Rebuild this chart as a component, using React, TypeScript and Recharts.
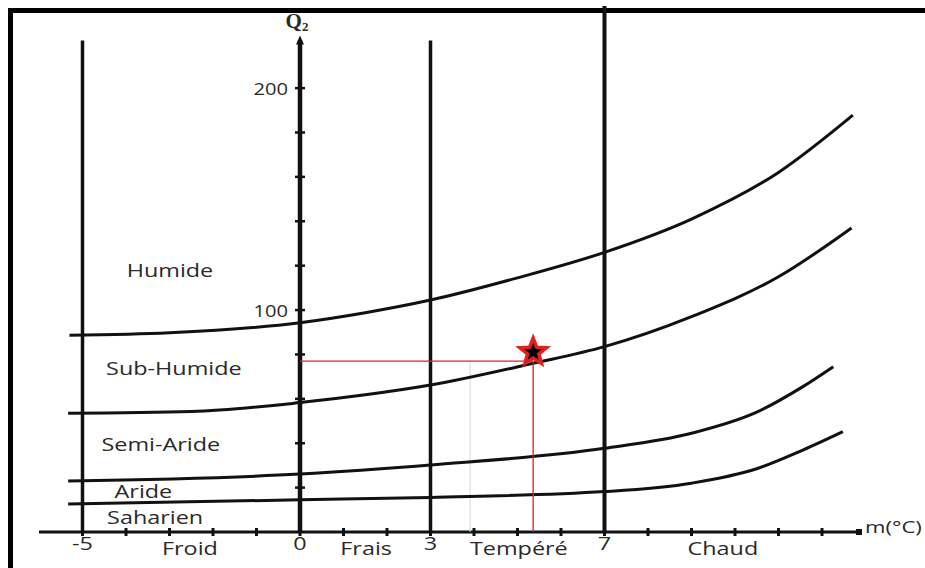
import { LineChart, Line, XAxis, YAxis, ReferenceLine, ReferenceDot } from "recharts";

// Climagramme d'Emberger : Q2 en fonction de m (°C)
// limites entre étages
const limHumideM = [-5.3, -3, 0, 1.5, 3, 5, 7, 9, 11, 12.71];
const limHumideQ = [88.7, 89.8, 94.3, 98.8, 104.5, 114.5, 126, 141, 162, 187.8];

const limSubHumideM = [-5.33, -2.5, 0, 1.5, 3, 5.36, 7, 9, 11, 12.68];
const limSubHumideQ = [53.5, 54.3, 58.3, 61.8, 66.2, 76, 83.5, 97, 115, 137];

const limSemiArideM = [-5.33, 0, 3, 7, 9, 10.5, 11.56, 12.26];
const limSemiArideQ = [23, 26.1, 30.2, 37.7, 44.5, 54, 65.5, 74.5];

const limArideM = [-5.33, 0, 3, 7, 9, 10.5, 11.56, 12.48];
const limArideQ = [12.6, 14.5, 15.6, 18.2, 22, 28.5, 36.9, 45.2];

const etageNames = ["Humide", "Sub-Humide", "Semi-Aride", "Aride", "Saharien"];
const etageM = [-2.99, -2.9, -3.2, -3.6, -3.33];
const etageQ = [118, 73.9, 39.6, 18.6, 6.9];

// variantes thermiques
const mTicks = [-5, -4, -3, -2, -1, 0, 1, 2, 3, 4, 5, 6, 7, 8, 9, 10, 11, 12];
const mLabelled = [-5, 0, 3, 7];
const varianteNames = ["Froid", "Frais", "Tempéré", "Chaud"];
const varianteM = [-2.53, 1.52, 5.03, 9.72];
const limitesM = [-5, 3, 7];

const qTicks = [20, 40, 60, 80, 100, 120, 140, 160, 180, 200];
const qLabelled = [100, 200];
const qAxisTop = 221.5;
const mAxisEnd = 12.85;

// station
const stationM = 5.36;
const stationQ = 77;
const grayM = 3.91;

const FONT = "'Open Sans', 'DejaVu Sans', sans-serif";
const INK = "#2a2a2a";

const toPoints = (ms: number[], qs: number[]) => ms.map((m, i) => ({ m, q: qs[i] }));

const curves = [
  toPoints(limHumideM, limHumideQ),
  toPoints(limSubHumideM, limSubHumideQ),
  toPoints(limSemiArideM, limSemiArideQ),
  toPoints(limArideM, limArideQ),
];

function Txt({ x, y, text, size = 18, anchor = "middle", sx = 1.3 }: any) {
  return (
    <text
      transform={`translate(${x},${y}) scale(${sx},1)`}
      textAnchor={anchor}
      dominantBaseline="central"
      fontSize={size}
      fontFamily={FONT}
      fill={INK}
    >
      {text}
    </text>
  );
}

function starPoints(cx: number, cy: number, ro: number, ri: number) {
  const pts: string[] = [];
  for (let i = 0; i < 10; i++) {
    const r = i % 2 === 0 ? ro : ri;
    const a = -Math.PI / 2 + (i * Math.PI) / 5;
    pts.push(`${cx + r * Math.cos(a)},${cy + r * Math.sin(a)}`);
  }
  return pts.join(" ");
}

const renderMTick = (props: any) => {
  const { x, y, payload } = props;
  const v = payload.value;
  const zi = varianteM.indexOf(v);
  if (zi >= 0) return <Txt x={x} y={y + 16} text={varianteNames[zi]} />;
  return (
    <g>
      <line x1={x} x2={x} y1={y - 4} y2={y + 4} stroke="#111" strokeWidth={3} />
      {mLabelled.includes(v) && <Txt x={x} y={y + 11} text={String(v)} />}
    </g>
  );
};

export default function App() {
  return (
    <div style={{ position: "fixed", left: 0, top: 0, width: 925, height: 568, background: "#fff" }}>
      <div
        style={{
          position: "absolute",
          left: 8,
          top: 8,
          width: 917,
          height: 560,
          borderTop: "5px solid #000",
          borderLeft: "5px solid #000",
          boxSizing: "border-box",
        }}
      />
      <div style={{ position: "absolute", left: 0, top: 0 }}>
        <LineChart width={925} height={568} margin={{ top: 6, right: 16, bottom: 0, left: 39 }}>
          <XAxis
            type="number"
            dataKey="m"
            domain={[-6, 14]}
            allowDataOverflow
            ticks={[...mTicks, ...varianteM]}
            interval={0}
            axisLine={false}
            tickLine={false}
            tickSize={0}
            tickMargin={0}
            height={36}
            tick={renderMTick}
          />
          <YAxis type="number" dataKey="q" domain={[0, 237]} allowDataOverflow hide />

          {/* axes */}
          <ReferenceLine segment={[{ x: -6, y: 0 }, { x: mAxisEnd, y: 0 }]} stroke="#111" strokeWidth={3} />
          <ReferenceLine segment={[{ x: 0, y: 0 }, { x: 0, y: qAxisTop }]} stroke="#111" strokeWidth={4.5} />

          {/* limites des variantes */}
          {limitesM.map((m) => (
            <ReferenceLine
              key={m}
              segment={[{ x: m, y: 0 }, { x: m, y: m === 7 ? 237 : qAxisTop }]}
              stroke="#111"
              strokeWidth={m === 7 ? 4 : 3.5}
            />
          ))}

          <ReferenceLine segment={[{ x: grayM, y: 0 }, { x: grayM, y: stationQ }]} stroke="#d6d6d6" strokeWidth={1} />

          {curves.map((data, i) => (
            <Line
              key={i}
              data={data}
              dataKey="q"
              type="monotone"
              stroke="#111"
              strokeWidth={3}
              dot={false}
              activeDot={false}
              isAnimationActive={false}
            />
          ))}

          {/* station */}
          <ReferenceLine segment={[{ x: 0, y: stationQ }, { x: stationM, y: stationQ }]} stroke="#e0201c" strokeWidth={1.3} />
          <ReferenceLine segment={[{ x: stationM, y: 0 }, { x: stationM, y: stationQ }]} stroke="#e0201c" strokeWidth={1.3} />

          {qTicks.map((q) => (
            <ReferenceDot
              key={q}
              x={0}
              y={q}
              shape={(p: any) => (
                <g>
                  <line x1={p.cx - 5} x2={p.cx + 5} y1={p.cy} y2={p.cy} stroke="#111" strokeWidth={2.5} />
                  {qLabelled.includes(q) && <Txt x={p.cx - 12} y={p.cy + 1} text={String(q)} size={15.5} anchor="end" />}
                </g>
              )}
            />
          ))}

          <ReferenceDot
            x={0}
            y={qAxisTop}
            shape={(p: any) => (
              <g>
                <polygon points={`${p.cx},${p.cy - 5} ${p.cx - 4},${p.cy + 4} ${p.cx + 4},${p.cy + 4}`} fill="#111" />
                <text x={p.cx - 3} y={p.cy - 12} textAnchor="middle" fontFamily="'Liberation Serif', serif" fontWeight="bold" fontSize={21} fill={INK}>
                  Q
                  <tspan fontSize={13} dy={3}>2</tspan>
                </text>
              </g>
            )}
          />

          <ReferenceDot
            x={mAxisEnd}
            y={0}
            shape={(p: any) => (
              <g>
                <rect x={p.cx - 3} y={p.cy - 3} width={6} height={6} fill="#111" />
                <Txt x={p.cx + 6} y={p.cy - 5} text="m(°C)" size={17} anchor="start" />
              </g>
            )}
          />

          {etageNames.map((name, i) => (
            <ReferenceDot key={name} x={etageM[i]} y={etageQ[i]} shape={(p: any) => <Txt x={p.cx} y={p.cy} text={name} />} />
          ))}

          <ReferenceDot
            x={stationM}
            y={stationQ}
            shape={(p: any) => (
              <polygon points={starPoints(p.cx, p.cy - 9, 14, 6)} fill="#000" stroke="#e0201c" strokeWidth={3.5} strokeLinejoin="miter" />
            )}
          />
        </LineChart>
      </div>
    </div>
  );
}
